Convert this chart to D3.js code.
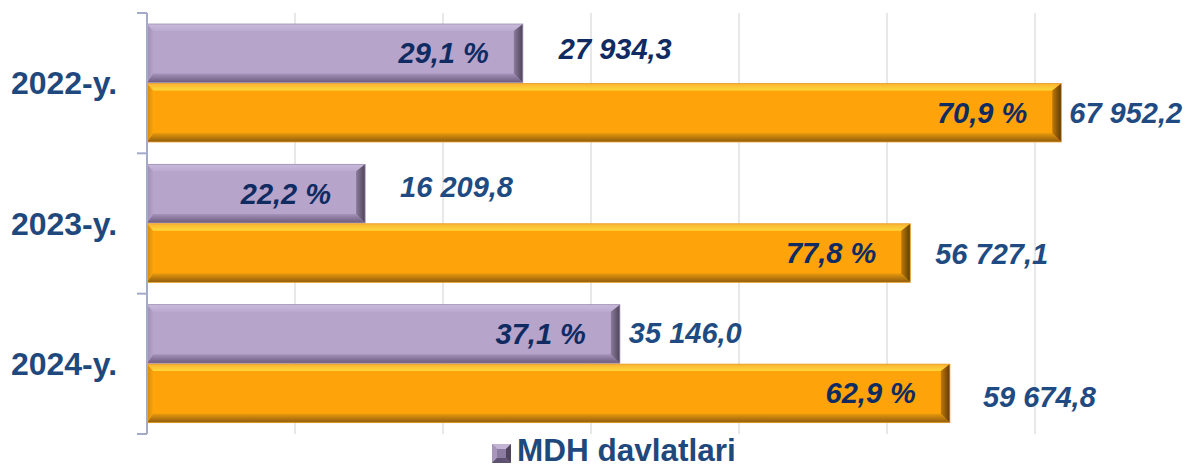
<!DOCTYPE html>
<html>
<head>
<meta charset="utf-8">
<script src="https://cdn.jsdelivr.net/npm/d3@7"></script>
<style>
  html, body { margin: 0; padding: 0; background: #fff; }
  svg { display: block; font-family: "Liberation Sans", Arial, sans-serif; }
</style>
</head>
<body>
<svg id="chart" width="1185" height="468"></svg>
<script>
// data
let years = ["2022-y.", "2023-y.", "2024-y."];
let series = ["MDH davlatlari", "Boshqa davlatlar"];
let cisValues = [27934.3, 16209.8, 35146.0];
let otherValues = [67952.2, 56727.1, 59674.8];
let cisShare = [29.1, 22.2, 37.1];
let otherShare = [70.9, 77.8, 62.9];
let gridTicks = [11000, 22000, 33000, 44000, 55000, 66000];

// hand nudges of the value labels (dx from bar end, dy from bar middle)
let valueNudge = {
  cis:   [[36, -4], [35, -7], [9, -1]],
  other: [[8, 0], [25, 1], [33, 4]]
};

let svg = d3.select("#chart");

let x = d3.scaleLinear().domain([0, 77000]).range([147, 1183]);
let y = d3.scaleBand().domain(years).range([13, 434]);
let inner = d3.scaleBand().domain(["cis", "other"]).range([11, 129]).paddingInner(0.015);

let locale = d3.formatLocale({decimal: ",", thousands: "\u00a0", grouping: [3]});
let fmtValue = locale.format(",.1f");
let fmtShare = v => locale.format(".1f")(v) + " %";

let palette = {
  cis:   {main: "#b6a4cb", top: ["#c9badb", "#bcaad0"], bottom: ["#a593bb", "#6b5b7c"],
          right: ["#8b7b9c", "#4e4359"], left: ["#a08fb4", "#b3a1c8"]},
  other: {main: "#fea40a", top: ["#f9b234", "#ffd83a"], bottom: ["#e99a0c", "#8e5b0d"],
          right: ["#c0790a", "#5e3b05"], left: ["#d98a08", "#f9a20c"]}
};

let defs = svg.append("defs");
function grad(id, stops, vertical) {
  let g = defs.append("linearGradient").attr("id", id)
    .attr("x1", 0).attr("y1", 0)
    .attr("x2", vertical ? 0 : 1).attr("y2", vertical ? 1 : 0);
  stops.forEach((c, i) => g.append("stop").attr("offset", i / (stops.length - 1)).attr("stop-color", c));
}
Object.keys(palette).forEach(k => {
  let p = palette[k];
  grad(k + "-top", p.top, true);
  grad(k + "-bottom", p.bottom, true);
  grad(k + "-right", p.right, false);
  grad(k + "-left", p.left, false);
});

// grid
svg.append("g")
  .selectAll("line")
  .data(gridTicks)
  .enter().append("line")
  .attr("x1", d => x(d)).attr("x2", d => x(d))
  .attr("y1", 13).attr("y2", 434)
  .attr("stroke", "#dcdcdc").attr("stroke-width", 1.3);

// bevelled bar
function bar(g, key, x0, x1, y0, h) {
  let b = 9, bt = 7, x1b = x1 - b;
  g.append("rect").attr("x", x0).attr("y", y0).attr("width", x1 - x0).attr("height", h)
    .attr("fill", palette[key].main);
  let pts = {
    top: [[x0, y0], [x1, y0], [x1b, y0 + bt], [x0 + 6, y0 + bt]],
    bottom: [[x0, y0 + h], [x1, y0 + h], [x1b, y0 + h - b], [x0 + 6, y0 + h - b]],
    left: [[x0, y0], [x0 + 6, y0 + bt], [x0 + 6, y0 + h - b], [x0, y0 + h]],
    right: [[x1, y0], [x1, y0 + h], [x1b, y0 + h - b], [x1b, y0 + bt]]
  };
  Object.keys(pts).forEach(side => {
    g.append("polygon").attr("points", pts[side].map(p => p.join(",")).join(" "))
      .attr("fill", "url(#" + key + "-" + side + ")");
  });
  g.append("rect").attr("x", x0).attr("y", y0).attr("width", x1 - x0).attr("height", h)
    .attr("fill", "none").attr("stroke", key == "cis" ? "#9d8fb0" : "#e8a030")
    .attr("stroke-width", 0.8);
}

let bars = svg.append("g");
let labels = svg.append("g");
years.forEach((yr, i) => {
  let rows = [
    {key: "cis", value: cisValues[i], share: cisShare[i]},
    {key: "other", value: otherValues[i], share: otherShare[i]}
  ];
  rows.forEach(r => {
    let y0 = y(yr) + inner(r.key), h = inner.bandwidth();
    let x1 = x(r.value);
    bar(bars, r.key, x(0), x1, y0, h);
    let mid = y0 + h / 2;
    labels.append("text")
      .attr("x", x1 - 34).attr("y", mid + 10)
      .attr("text-anchor", "end")
      .attr("font-size", 29).attr("font-weight", "bold").attr("font-style", "italic")
      .attr("fill", "#0f2b62")
      .text(fmtShare(r.share));
    let n = valueNudge[r.key][i];
    labels.append("text")
      .attr("x", x1 + n[0]).attr("y", mid + 10 + n[1])
      .attr("font-size", 29).attr("font-weight", "bold").attr("font-style", "italic")
      .attr("fill", (i == 0 && r.key == "cis") ? "#0f2b62" : "#1f4b82")
      .text(fmtValue(r.value));
  });
});

// category axis
let axis = svg.append("g").attr("stroke", "#a3abc9").attr("stroke-width", 2);
axis.append("line").attr("x1", 147).attr("x2", 147).attr("y1", 13).attr("y2", 434);
axis.selectAll("line.tick")
  .data(years.map(d => y(d)).concat([434]))
  .enter().append("line").attr("class", "tick")
  .attr("x1", 137).attr("x2", 147).attr("y1", d => d).attr("y2", d => d);

svg.append("g")
  .selectAll("text")
  .data(years)
  .enter().append("text")
  .attr("x", 64).attr("y", d => y(d) + y.bandwidth() / 2 + 11)
  .attr("text-anchor", "middle")
  .attr("font-size", 32).attr("font-weight", "bold")
  .attr("fill", "#1f497d")
  .text(d => d);

// legend (only the first entry fits in the picture)
let lg = svg.append("g").attr("transform", "translate(492,444)");
let s = 19;
lg.append("rect").attr("width", s).attr("height", s).attr("fill", "#8c7ca0");
lg.append("polygon").attr("points", `0,0 ${s},0 ${s - 5},5 5,5`).attr("fill", "#c3b4d6");
lg.append("polygon").attr("points", `0,0 5,5 5,${s - 5} 0,${s}`).attr("fill", "#a897bb");
lg.append("polygon").attr("points", `${s},0 ${s},${s} ${s - 5},${s - 5} ${s - 5},5`).attr("fill", "#4f4459");
lg.append("polygon").attr("points", `0,${s} ${s},${s} ${s - 5},${s - 5} 5,${s - 5}`).attr("fill", "#5f5270");
lg.append("text")
  .attr("x", 25).attr("y", 17)
  .attr("font-size", 31.5).attr("font-weight", "bold")
  .attr("fill", "#1f497d")
  .text(series[0]);
</script>
</body>
</html>
